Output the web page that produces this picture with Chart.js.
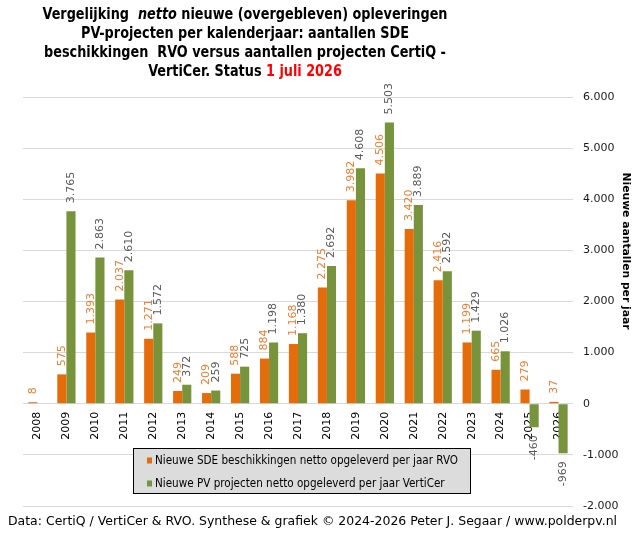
<!DOCTYPE html>
<html>
<head>
<meta charset="utf-8">
<script src="https://cdn.jsdelivr.net/npm/chart.js@4.4.1/dist/chart.umd.min.js"></script>
<style>
  html, body { margin: 0; padding: 0; background: #fff; }
  #wrap { width: 637px; height: 533px; }
</style>
</head>
<body>
<div id="wrap"><canvas id="chart" width="637" height="533"></canvas></div>
<script>
// jaren + netto aantallen per jaar
const years = ['2008', '2009', '2010', '2011', '2012', '2013', '2014', '2015', '2016', '2017',
  '2018', '2019', '2020', '2021', '2022', '2023', '2024', '2025', '2026'];
const sdeRvo = [8, 575, 1393, 2037, 1271, 249, 209, 588, 884, 1168,
  2275, 3982, 4506, 3420, 2416, 1199, 665, 279, 37];
const pvVertiCer = [null, 3765, 2863, 2610, 1572, 372, 259, 725, 1198, 1380,
  2692, 4608, 5503, 3889, 2592, 1429, 1026, -460, -969];
const yTicks = [-2000, -1000, 0, 1000, 2000, 3000, 4000, 5000, 6000];

const seriesNames = [
  'Nieuwe SDE beschikkingen netto opgeleverd per jaar RVO',
  'Nieuwe PV projecten netto opgeleverd per jaar VertiCer'
];
const barColors = ['#E46C0A', '#77933C'];
const labelColors = ['#ED7D31', '#595959'];

const FONT = '"DejaVu Sans", Verdana, sans-serif';
const COND = '"DejaVu Sans Condensed", ' + FONT;
const fmt = v => v.toLocaleString('nl-NL');

// tekst horizontaal passend maken op een gegeven breedte
function fitScale(ctx, parts, width) {
  let w = 0;
  parts.forEach(p => { ctx.font = p.font; w += ctx.measureText(p.text).width; });
  return width / w;
}
function drawParts(ctx, parts, left, y, sx) {
  ctx.save();
  ctx.translate(left, y);
  ctx.scale(sx, 1);
  let x = 0;
  parts.forEach(p => {
    ctx.font = p.font;
    ctx.fillStyle = p.color || '#000';
    ctx.fillText(p.text, x, 0);
    x += ctx.measureText(p.text).width;
  });
  ctx.restore();
}

const valueLabels = {
  id: 'valueLabels',
  afterDatasetsDraw(chart) {
    const ctx = chart.ctx;
    ctx.save();
    ctx.font = '11px ' + FONT;
    chart.data.datasets.forEach((ds, i) => {
      chart.getDatasetMeta(i).data.forEach((bar, j) => {
        const v = ds.data[j];
        if (v === null) return;
        ctx.save();
        ctx.translate(bar.x, v >= 0 ? bar.y - 8 : bar.y + 8);
        ctx.rotate(-Math.PI / 2);
        ctx.textAlign = v >= 0 ? 'left' : 'right';
        ctx.textBaseline = 'middle';
        ctx.fillStyle = labelColors[i];
        ctx.fillText(fmt(v), 0, 0);
        ctx.restore();
      });
    });
    ctx.restore();
  }
};

const decorations = {
  id: 'decorations',
  beforeDraw(chart) {
    const ctx = chart.ctx;
    ctx.save();
    ctx.fillStyle = '#fff';
    ctx.fillRect(0, 0, chart.width, chart.height);
    ctx.restore();
  },
  afterDraw(chart) {
    const ctx = chart.ctx;
    ctx.save();
    ctx.textBaseline = 'alphabetic';

    // titel
    const b = 'bold 16px ' + COND;
    const bi = 'italic bold 16px ' + COND;
    const lines = [
      [{ text: 'Vergelijking  ', font: b }, { text: 'netto', font: bi }, { text: ' nieuwe (overgebleven) opleveringen', font: b }],
      [{ text: 'PV-projecten per kalenderjaar: aantallen SDE', font: b }],
      [{ text: 'beschikkingen  RVO versus aantallen projecten CertiQ -', font: b }],
      [{ text: 'VertiCer. Status ', font: b }, { text: '1 juli 2026', font: b, color: '#FF0000' }]
    ];
    const sx = fitScale(ctx, lines[0], 405);
    lines.forEach((parts, k) => {
      const w = sx / fitScale(ctx, parts, 1);
      drawParts(ctx, parts, 245 - w / 2, 19 + k * 19, sx);
    });

    // as-titel rechts
    ctx.save();
    ctx.translate(626, 251);
    ctx.rotate(Math.PI / 2);
    const at = [{ text: 'Nieuwe aantallen per jaar', font: 'bold 11px ' + FONT }];
    const asx = fitScale(ctx, at, 157);
    ctx.textBaseline = 'middle';
    drawParts(ctx, at, -157 / 2, 0, asx);
    ctx.restore();

    // legenda
    ctx.fillStyle = '#DCDCDC';
    ctx.fillRect(133.5, 448.5, 337, 45);
    ctx.strokeStyle = '#000';
    ctx.lineWidth = 1;
    ctx.strokeRect(133.5, 448.5, 337, 45);
    ctx.textBaseline = 'middle';
    const lf = '12.5px ' + COND;
    const lsx = fitScale(ctx, [{ text: seriesNames[0], font: lf }], 303);
    seriesNames.forEach((name, i) => {
      const cy = 460.5 + i * 23;
      ctx.fillStyle = barColors[i];
      ctx.fillRect(147, cy - 3, 5, 6);
      drawParts(ctx, [{ text: name, font: lf }], 155, cy, lsx);
    });

    // bron
    ctx.textBaseline = 'alphabetic';
    const foot = [{ text: 'Data: CertiQ / VertiCer & RVO. Synthese & grafiek © 2024-2026 Peter J. Segaar / www.polderpv.nl', font: '12px ' + FONT }];
    drawParts(ctx, foot, 8, 525, fitScale(ctx, foot, 609));
    ctx.restore();
  }
};

new Chart(document.getElementById('chart'), {
  type: 'bar',
  data: {
    labels: years,
    datasets: [
      { label: seriesNames[0], data: sdeRvo, backgroundColor: barColors[0], minBarLength: 1.5 },
      { label: seriesNames[1], data: pvVertiCer, backgroundColor: barColors[1] }
    ]
  },
  options: {
    responsive: false,
    devicePixelRatio: 1,
    animation: false,
    categoryPercentage: 0.63,
    barPercentage: 1,
    layout: { padding: { top: 97, left: 23, right: 0, bottom: 27 } },
    plugins: {
      legend: { display: false },
      tooltip: { enabled: false },
      title: { display: false }
    },
    scales: {
      x: {
        position: { y: 0 },
        grid: { display: false, drawTicks: false },
        border: { display: false },
        ticks: {
          autoSkip: false,
          minRotation: 90,
          maxRotation: 90,
          padding: 8,
          color: '#000',
          font: { family: FONT, size: 11 }
        }
      },
      y: {
        position: 'right',
        min: -2000,
        max: 6000,
        afterBuildTicks: s => { s.ticks = yTicks.map(v => ({ value: v })); },
        afterFit: s => { s.width = 64; },
        grid: { color: '#D9D9D9', drawTicks: false },
        border: { display: false },
        ticks: {
          padding: 10,
          color: '#1a1a1a',
          font: { family: FONT, size: 11 },
          callback: v => fmt(v)
        }
      }
    }
  },
  plugins: [decorations, valueLabels]
});
</script>
</body>
</html>
